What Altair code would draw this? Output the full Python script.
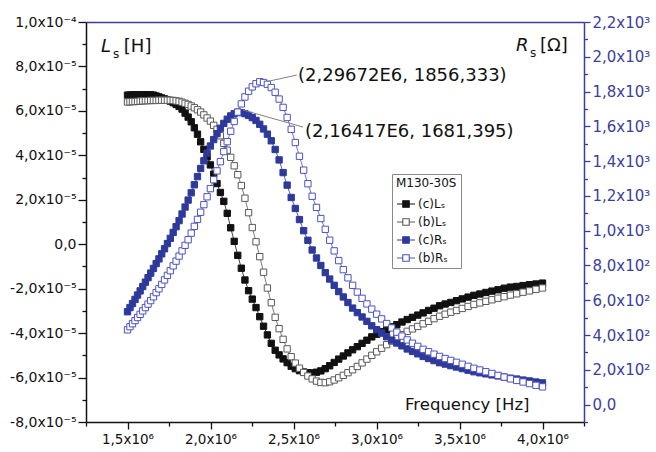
import altair as alt
import pandas as pd

# ---------------- data ----------------
freq_khz = [
    1500.00, 1514.93, 1530.02, 1545.25, 1560.64, 1576.18, 1591.87, 1607.72, 1623.73, 1639.89,
    1656.22, 1672.71, 1689.37, 1706.19, 1723.18, 1740.34, 1757.67, 1775.17, 1792.85, 1810.70,
    1828.71, 1846.92, 1865.31, 1883.88, 1902.64, 1921.58, 1940.71, 1960.04, 1979.55, 1999.26,
    2019.17, 2039.27, 2059.58, 2080.08, 2100.80, 2121.71, 2142.84, 2164.17, 2185.72, 2207.48,
    2229.46, 2251.66, 2274.08, 2296.72, 2319.59, 2342.68, 2366.01, 2389.56, 2413.36, 2437.38,
    2461.65, 2486.16, 2510.91, 2535.91, 2561.16, 2586.66, 2612.42, 2638.43, 2664.70, 2691.23,
    2718.03, 2745.09, 2772.42, 2800.03, 2827.91, 2856.06, 2884.50, 2913.22, 2942.23, 2971.52,
    3001.11, 3030.99, 3061.17, 3091.65, 3122.43, 3153.52, 3184.92, 3216.63, 3248.66, 3281.00,
    3313.67, 3346.66, 3379.98, 3413.64, 3447.63, 3481.95, 3516.62, 3551.64, 3587.00, 3622.71,
    3658.78, 3695.21, 3732.00, 3769.16, 3806.69, 3844.59, 3882.87, 3921.53, 3960.58, 4000.00,
]

# Ls in units of 1e-5 H
ls_c = [
    6.71, 6.71, 6.72, 6.72, 6.73, 6.73, 6.73, 6.73, 6.72, 6.72,
    6.71, 6.67, 6.63, 6.58, 6.54, 6.49, 6.44, 6.37, 6.29, 6.20,
    6.08, 5.90, 5.72, 5.51, 5.24, 4.95, 4.61, 4.27, 3.93, 3.57,
    3.15, 2.73, 2.33, 1.93, 1.39, 0.74, 0.13, -0.50, -1.08, -1.61,
    -2.09, -2.47, -2.85, -3.26, -3.69, -4.08, -4.46, -4.77, -4.98, -5.16,
    -5.33, -5.49, -5.60, -5.69, -5.75, -5.78, -5.79, -5.76, -5.70, -5.60,
    -5.47, -5.32, -5.17, -5.03, -4.89, -4.75, -4.61, -4.46, -4.32, -4.17,
    -4.05, -3.94, -3.83, -3.72, -3.62, -3.50, -3.39, -3.29, -3.19, -3.09,
    -2.98, -2.88, -2.77, -2.69, -2.62, -2.54, -2.46, -2.38, -2.30, -2.24,
    -2.17, -2.11, -2.05, -1.98, -1.93, -1.90, -1.86, -1.82, -1.79, -1.75,
]
ls_b = [
    6.40, 6.41, 6.42, 6.42, 6.43, 6.44, 6.45, 6.46, 6.46, 6.47,
    6.47, 6.47, 6.48, 6.48, 6.48, 6.48, 6.48, 6.47, 6.45, 6.43,
    6.39, 6.34, 6.29, 6.22, 6.14, 6.05, 5.95, 5.82, 5.68, 5.54,
    5.35, 5.17, 4.88, 4.54, 4.23, 3.91, 3.53, 3.13, 2.64, 2.07,
    1.42, 0.75, 0.11, -0.56, -1.26, -1.97, -2.63, -3.29, -3.80, -4.28,
    -4.71, -5.06, -5.35, -5.58, -5.77, -5.93, -6.06, -6.16, -6.22, -6.23,
    -6.19, -6.11, -6.01, -5.90, -5.78, -5.65, -5.50, -5.34, -5.17, -5.00,
    -4.84, -4.68, -4.52, -4.36, -4.22, -4.07, -3.92, -3.81, -3.70, -3.58,
    -3.47, -3.35, -3.24, -3.15, -3.06, -2.98, -2.89, -2.80, -2.71, -2.64,
    -2.57, -2.50, -2.43, -2.36, -2.29, -2.23, -2.16, -2.10, -2.03, -1.97,
]
# Rs in Ohm
rs_c = [
    534, 558, 581, 605, 630, 654, 679, 704, 730, 756,
    783, 811, 838, 867, 896, 926, 956, 990, 1023, 1058,
    1096, 1136, 1176, 1218, 1264, 1311, 1358, 1402, 1446, 1487,
    1524, 1558, 1589, 1617, 1641, 1660, 1673, 1681.395, 1679, 1673,
    1663, 1650, 1634, 1612, 1585, 1555, 1517, 1467, 1407, 1334,
    1262, 1191, 1128, 1064, 1000, 945, 889, 843, 800, 759,
    722, 686, 650, 619, 587, 555, 529, 504, 479, 453,
    431, 411, 390, 371, 354, 338, 320, 306, 292, 277,
    265, 253, 241, 233, 224, 216, 207, 198, 189, 183,
    177, 171, 165, 158, 152, 147, 141, 136, 130, 125,
]
rs_b = [
    430, 448, 465, 483, 501, 519, 539, 558, 578, 598,
    620, 644, 666, 691, 717, 743, 770, 798, 825, 854,
    884, 916, 948, 986, 1025, 1065, 1106, 1150, 1195, 1242,
    1293, 1344, 1397, 1455, 1512, 1572, 1628, 1682, 1729, 1769,
    1802, 1827, 1845, 1856.333, 1852, 1842, 1823, 1796, 1757, 1709,
    1651, 1583, 1507, 1428, 1348, 1270, 1198, 1134, 1070, 1008,
    945, 884, 828, 776, 729, 686, 647, 611, 579, 549,
    520, 493, 466, 441, 417, 394, 372, 353, 335, 318,
    304, 290, 277, 265, 254, 243, 232, 220, 209, 199,
    189, 179, 168, 158, 148, 139, 130, 121, 111, 102,
]

names = ["(c)L\u209b", "(b)L\u209b", "(c)R\u209b", "(b)R\u209b"]
legend_title = "M130-30S"

x_ticks = [1250000, 1500000, 1750000, 2000000, 2250000, 2500000, 2750000,
           3000000, 3250000, 3500000, 3750000, 4000000, 4250000]
yl_ticks_e5 = [-8, -7, -6, -5, -4, -3, -2, -1, 0, 1, 2, 3, 4, 5, 6, 7, 8, 9, 10]
yr_ticks = [-100, 0, 100, 200, 300, 400, 500, 600, 700, 800, 900, 1000, 1100,
            1200, 1300, 1400, 1500, 1600, 1700, 1800, 1900, 2000, 2100, 2200]

peak_labels = ["(2,29672E6, 1856,333)", "(2,16417E6, 1681,395)"]

# ---------------- tables ----------------
n = len(freq_khz)
hz = [f * 1000 for f in freq_khz]
dfL = pd.DataFrame({
    "f": hz + hz,
    "v": [v * 1e-5 for v in ls_c] + [v * 1e-5 for v in ls_b],
    "s": [names[0]] * n + [names[1]] * n,
})
dfR = pd.DataFrame({
    "f": hz + hz,
    "v": rs_c + rs_b,
    "s": [names[2]] * n + [names[3]] * n,
})

# ---------------- styles ----------------
FONT = "DejaVu Sans"
BLACK = "#111111"
GRAY = "#5a5a5a"
BLUE_F = "#2d3a9b"
BLUE_O = "#4d52c4"
BLUE_AX = "#3b3f9c"

fills = [BLACK, "white", BLUE_F, "white"]
strokes = [BLACK, GRAY, BLUE_F, BLUE_O]

x_scale = alt.Scale(domain=[1250000, 4250000], nice=False, zero=False)
yl_scale = alt.Scale(domain=[-8e-5, 1e-4], nice=False, zero=False)
yr_scale = alt.Scale(domain=[-100, 2200], nice=False, zero=False)
fill_scale = alt.Scale(domain=names, range=fills)
stroke_scale = alt.Scale(domain=names, range=strokes)

legend = alt.Legend(
    title=legend_title, orient="none", legendX=306, legendY=152,
    symbolType="M-1,0H-0.36M0.36,0H1M-0.36,-0.36H0.36V0.36H-0.36Z",
    symbolSize=324, symbolStrokeWidth=1.1, symbolOpacity=1,
    labelFont=FONT, labelFontSize=12, labelColor=BLACK, labelOffset=2,
    titleFont=FONT, titleFontSize=12, titleFontWeight="normal", titleColor=BLACK,
    titlePadding=4, rowPadding=2, padding=4, strokeColor="#8a8a8a", fillColor="white",
)

x_label = ("round(datum.value/250000) % 2 == 1 ? '' : "
           "replace(format(datum.value/1e6, '.1f'), '.', ',') + 'x10\u2076'")
yl_label = ("abs(round(datum.value*1e5)) % 2 == 1 ? '' : abs(datum.value) < 1e-9 ? '0,0' : "
            "replace(replace(format(abs(datum.value) > 9.9e-5 ? datum.value*1e4 : datum.value*1e5, '.1f'), '.', ','), '\u2212', '-')"
            " + (abs(datum.value) > 9.9e-5 ? 'x10\u207b\u2074' : 'x10\u207b\u2075')")
yr_label = ("datum.value < 0 || round(datum.value/100) % 2 == 1 ? '' : datum.value == 0 ? '0,0' : "
            "datum.value >= 1000 ? replace(format(datum.value/1000, '.1f'), '.', ',') + 'x10\u00b3' : "
            "replace(format(datum.value/100, '.1f'), '.', ',') + 'x10\u00b2'")

x_axis = alt.Axis(
    orient="bottom", values=x_ticks, labelExpr=x_label,
    tickSize={"condition": {"test": "round(datum.value/250000) % 2 == 0", "value": 7}, "value": 4},
    tickWidth=1.3, tickColor=BLACK, domainColor=BLACK, domainWidth=1.5,
    labelFont=FONT, labelFontSize=13.5, labelColor=BLACK, labelPadding=3,
    labelOverlap=False, labelFlush=False, grid=False, title=None,
)
x_axis_top = alt.Axis(orient="top", ticks=False, labels=False, domainColor=BLUE_AX,
                      domainWidth=1.5, grid=False, title=None)
yl_axis = alt.Axis(
    orient="left", values=[v * 1e-5 for v in yl_ticks_e5], labelExpr=yl_label,
    tickSize={"condition": {"test": "abs(round(datum.value*1e5)) % 2 == 0", "value": 8}, "value": 4},
    tickWidth=1.3, tickColor=BLACK, domainColor=BLACK, domainWidth=1.5,
    labelFont=FONT, labelFontSize=14, labelColor=BLACK, labelPadding=2,
    labelOverlap=False, labelFlush=False, grid=False, title=None,
)
yr_axis = alt.Axis(
    orient="right", values=yr_ticks, labelExpr=yr_label,
    tickSize={"condition": {"test": "datum.value >= 0 && round(datum.value/100) % 2 == 0", "value": 6}, "value": 3.5},
    tickWidth=1.3, tickColor=BLUE_AX, domainColor=BLUE_AX, domainWidth=1.5,
    labelFont=FONT, labelFontSize=15, labelColor=BLUE_AX, labelPadding=2,
    labelOverlap=False, labelFlush=False, grid=False, title=None,
)

XL = alt.X("f:Q", scale=x_scale, axis=x_axis)
XR = alt.X("f:Q", scale=x_scale, axis=x_axis_top)
YL = alt.Y("v:Q", scale=yl_scale, axis=yl_axis)
YR = alt.Y("v:Q", scale=yr_scale, axis=yr_axis)

def series_line(df, i, X, Y):
    return (alt.Chart(df).transform_filter(alt.datum.s == names[i])
            .mark_line(strokeWidth=0.8, color=strokes[i]).encode(x=X, y=Y))

def series_points(df, i, X, Y):
    return (alt.Chart(df).transform_filter(alt.datum.s == names[i])
            .mark_point(shape="square", size=40, filled=True, opacity=1, strokeWidth=1,
                        fill=fills[i], stroke=strokes[i])
            .encode(x=X, y=Y))

def legend_layer(df, X, Y):
    # draws nothing itself; it only carries the legend (symbol = line through a square)
    return alt.Chart(df).transform_filter("false").mark_point(filled=True, opacity=1,
                                                              strokeWidth=1).encode(
        x=X, y=Y,
        fill=alt.Fill("s:N", scale=fill_scale, legend=legend),
        stroke=alt.Stroke("s:N", scale=stroke_scale, legend=legend),
    )

def text_layer(df, X, Y, **kw):
    return alt.Chart(df).mark_text(font=FONT, align="left", baseline="middle", **kw).encode(
        x=X, y=Y, text="t:N")

# axis-name annotations (positions in data units)
tL_main = pd.DataFrame({"f": [1340000, 1478000], "v": [8.87e-5, 8.87e-5], "t": ["L", "[H]"]})
tL_sub = pd.DataFrame({"f": [1413000], "v": [8.56e-5], "t": ["s"]})
tFreq = pd.DataFrame({"f": [3172000], "v": [-7.24e-5], "t": ["Frequency [Hz]"]})
tR_main = pd.DataFrame({"f": [3840000, 3985000], "v": [2062, 2062], "t": ["R", "[\u03a9]"]})
tR_sub = pd.DataFrame({"f": [3925000], "v": [2022], "t": ["s"]})
tPeak = pd.DataFrame({"f": [2527000, 2569000], "v": [1889.5, 1567.5], "t": peak_labels})
leaders = pd.DataFrame({"f": [2338600, 2196000], "v": [1857, 1694],
                        "f2": [2520000, 2557000], "v2": [1895, 1596]})

left = alt.layer(
    series_line(dfL, 0, XL, YL),
    series_line(dfL, 1, XL, YL),
    series_points(dfL, 0, XL, YL),
    series_points(dfL, 1, XL, YL),
    legend_layer(pd.concat([dfL, dfR]), XL, YL),
    text_layer(tL_main[tL_main.t == "L"], XL, YL, fontSize=18, fontStyle="italic", color=BLACK),
    text_layer(tL_main[tL_main.t != "L"], XL, YL, fontSize=18, color=BLACK),
    text_layer(tL_sub, XL, YL, fontSize=12, color=BLACK),
    text_layer(tFreq, XL, YL, fontSize=16.5, color=BLACK),
)

right = alt.layer(
    series_line(dfR, 2, XR, YR),
    series_line(dfR, 3, XR, YR),
    series_points(dfR, 2, XR, YR),
    series_points(dfR, 3, XR, YR),
    alt.Chart(leaders).mark_rule(color="#808080", strokeWidth=1).encode(
        x=XR, y=YR, x2="f2:Q", y2="v2:Q"),
    text_layer(tPeak, XR, YR, fontSize=18, color=BLACK),
    text_layer(tR_main[tR_main.t == "R"], XR, YR, fontSize=18, fontStyle="italic", color=BLACK),
    text_layer(tR_main[tR_main.t != "R"], XR, YR, fontSize=18, color=BLACK),
    text_layer(tR_sub, XR, YR, fontSize=12, color=BLACK),
)

chart = (
    alt.layer(left, right)
    .resolve_scale(y="independent")
    .resolve_axis(x="independent")
    .properties(width=498, height=400, autosize="none",
                padding={"left": 86, "top": 22, "right": 72, "bottom": 30})
    .configure_view(stroke=None)
)

chart.save("out.html", embed_options={"renderer": "svg", "actions": False})
